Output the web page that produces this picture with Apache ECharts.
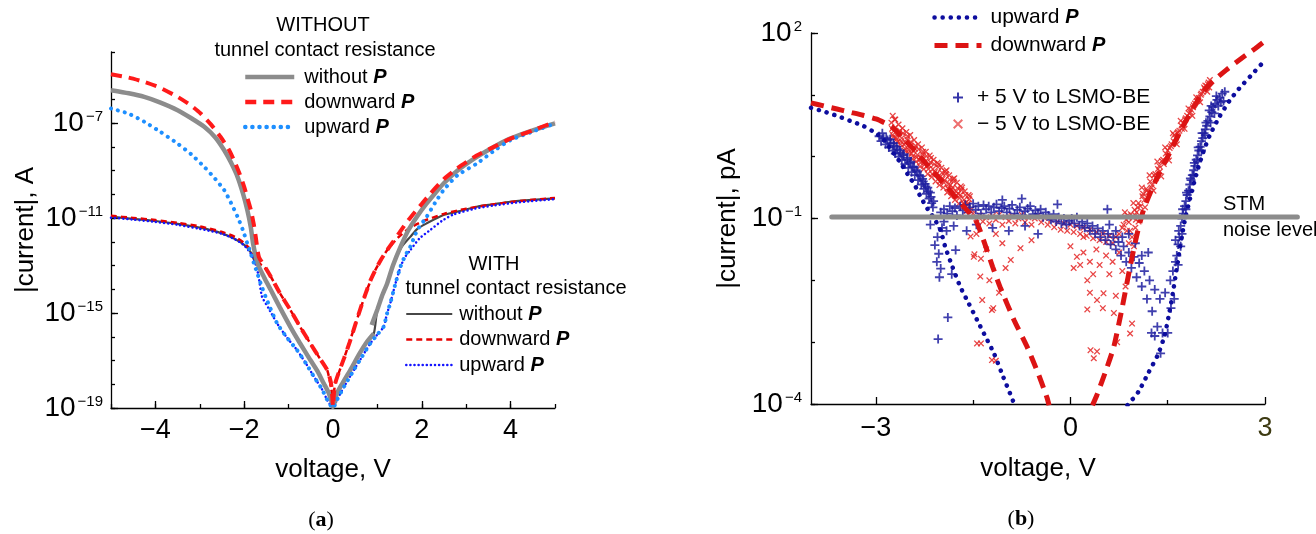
<!DOCTYPE html>
<html><head><meta charset="utf-8">
<script src="https://cdn.jsdelivr.net/npm/echarts@6/dist/echarts.min.js"></script>
<style>html,body{margin:0;padding:0;background:#fff}#c{width:1316px;height:534px}</style>
</head><body><div id="c"></div>
<script>
// ================= DATA =================
// Panel (a): [voltage (V), log10(|current| / A)]
const aXTicks = [-4, -2, 0, 2, 4];
// WITHOUT tunnel contact resistance
const aNoResNone = [[-5,-5.61],[-4.6,-5.74],[-4.25,-5.89],[-3.9,-6.12],[-3.5,-6.45],[-3.2,-6.78],[-2.9,-7.15],[-2.65,-7.6],[-2.45,-8.14],[-2.3,-8.65],[-2.15,-9.26],[-2.03,-9.95],[-1.93,-10.66],[-1.85,-11.4],[-1.8,-12.07],[-1.7,-12.91],[-1.55,-13.5],[-1.4,-14.03],[-1.2,-14.75],[-0.96,-15.58],[-0.75,-16.25],[-0.51,-16.98],[-0.35,-17.45],[-0.21,-17.96],[-0.1,-18.35],[-0.02,-18.8],[0,-18.95],[0.09,-18.38],[0.2,-18.0],[0.39,-17.4],[0.6,-16.7],[0.75,-16.25],[0.92,-15.86],[0.9,'-'],[0.87,-15.5],[1.0,-14.85],[1.1,-14.3],[1.22,-13.75],[1.35,-13.0],[1.52,-12.21],[1.7,-11.5],[1.89,-10.94],[2.1,-10.4],[2.3,-9.95],[2.49,-9.54],[2.8,-9.0],[3.24,-8.42],[3.6,-8.02],[3.99,-7.65],[4.5,-7.3],[5.0,-7.01]];
const aNoResDown = [[-5,-4.94],[-4.6,-5.08],[-4.25,-5.26],[-3.9,-5.5],[-3.5,-5.89],[-3.2,-6.25],[-2.98,-6.59],[-2.75,-7.05],[-2.53,-7.58],[-2.35,-8.1],[-2.23,-8.56],[-2.1,-9.15],[-2.0,-9.68],[-1.92,-10.2],[-1.85,-10.66],[-1.78,-11.3],[-1.74,-11.79],[-1.67,-12.63],[-1.55,-13.0],[-1.4,-13.47],[-1.2,-14.15],[-0.96,-14.87],[-0.75,-15.55],[-0.51,-16.28],[-0.3,-16.9],[-0.13,-17.4],[-0.05,-17.9],[-0.02,-18.4],[0,-18.94],[0.02,-18.4],[0.05,-17.96],[0.15,-17.4],[0.25,-16.9],[0.38,-16.2],[0.5,-15.5],[0.62,-14.8],[0.75,-14.1],[0.85,-13.6],[0.95,-13.2],[1.08,-12.75],[1.2,-12.4],[1.35,-12.0],[1.5,-11.6],[1.65,-11.2],[1.8,-10.85],[2.0,-10.4],[2.2,-9.95],[2.5,-9.35],[2.8,-8.9],[3.2,-8.4],[3.6,-8.02],[4.0,-7.65],[4.5,-7.3],[5.0,-6.94]];
const aNoResUp = [[-5,-6.38],[-4.6,-6.6],[-4.25,-6.94],[-3.9,-7.35],[-3.5,-7.86],[-3.2,-8.3],[-2.9,-8.84],[-2.65,-9.35],[-2.45,-9.82],[-2.3,-10.35],[-2.15,-10.94],[-2.03,-11.5],[-1.93,-12.07],[-1.85,-12.5],[-1.78,-12.91],[-1.7,-13.35],[-1.63,-13.75],[-1.5,-14.4],[-1.26,-15.43],[-1.05,-16.0],[-0.81,-16.56],[-0.6,-17.15],[-0.43,-17.68],[-0.25,-18.2],[-0.13,-18.66],[0,-19.0],[0.09,-18.66],[0.25,-18.1],[0.47,-17.4],[0.65,-16.85],[0.84,-16.28],[1.0,-15.9],[1.14,-15.58],[1.22,-15.0],[1.29,-14.59],[1.4,-13.8],[1.52,-13.05],[1.62,-12.6],[1.74,-12.21],[1.9,-11.5],[2.11,-10.94],[2.3,-10.35],[2.49,-9.82],[2.8,-9.2],[3.24,-8.7],[3.6,-8.2],[3.99,-7.72],[4.5,-7.35],[5.0,-7.01]];
// WITH tunnel contact resistance
const aResNone = [[-5,-10.94],[-4.5,-11.03],[-4,-11.12],[-3.5,-11.24],[-3,-11.4],[-2.6,-11.58],[-2.3,-11.8],[-2.1,-12.0],[-1.95,-12.2],[-1.85,-12.45],[-1.78,-12.75],[-1.7,-12.95],[-1.55,-13.5],[-1.4,-14.03],[-1.2,-14.75],[-0.96,-15.58],[-0.75,-16.25],[-0.51,-16.98],[-0.21,-17.96],[-0.02,-18.8],[0,-18.95],[0.09,-18.38],[0.39,-17.4],[0.75,-16.25],[0.92,-15.86],[1.0,-14.85],[1.22,-13.75],[1.4,-12.75],[1.55,-12.2],[1.74,-11.79],[1.9,-11.45],[2.11,-11.22],[2.49,-10.87],[2.9,-10.68],[3.24,-10.52],[3.6,-10.42],[3.99,-10.31],[4.5,-10.23],[5.0,-10.17]];
const aResDown = [[-5,-10.9],[-4.5,-10.99],[-4,-11.08],[-3.5,-11.2],[-3,-11.35],[-2.5,-11.58],[-2.2,-11.8],[-2.0,-12.05],[-1.85,-12.35],[-1.75,-12.7],[-1.67,-12.9],[-1.55,-13.05],[-1.4,-13.47],[-1.2,-14.15],[-0.96,-14.87],[-0.75,-15.55],[-0.51,-16.28],[-0.3,-16.9],[-0.13,-17.4],[-0.02,-18.4],[0,-18.94],[0.02,-18.4],[0.05,-17.96],[0.25,-16.9],[0.5,-15.5],[0.75,-14.1],[0.95,-13.2],[1.2,-12.4],[1.45,-11.85],[1.7,-11.45],[2.0,-11.15],[2.5,-10.82],[3.0,-10.6],[3.6,-10.42],[4.2,-10.28],[5,-10.15]];
const aResUp = [[-5,-10.98],[-4.5,-11.06],[-4,-11.16],[-3.5,-11.28],[-3,-11.45],[-2.5,-11.66],[-2.2,-11.9],[-2.0,-12.15],[-1.85,-12.5],[-1.75,-12.9],[-1.68,-13.4],[-1.6,-14.3],[-1.45,-14.8],[-1.26,-15.43],[-1.05,-16.0],[-0.81,-16.56],[-0.6,-17.15],[-0.43,-17.68],[-0.25,-18.2],[-0.13,-18.66],[0,-19.0],[0.09,-18.66],[0.25,-18.1],[0.47,-17.4],[0.65,-16.85],[0.84,-16.28],[1.0,-15.9],[1.14,-15.58],[1.22,-15.0],[1.29,-14.59],[1.4,-13.8],[1.52,-13.05],[1.62,-12.65],[1.74,-12.35],[1.95,-11.85],[2.19,-11.5],[2.45,-11.12],[2.71,-10.85],[3.2,-10.6],[3.61,-10.47],[4.2,-10.33],[5,-10.2]];

// Panel (b): [voltage (V), log10(|current| / pA)]
const bXTicks = [-3, 0, 3];
const bXMinorTicks = [-1.5, 1.5];
const bUpModel = [[-4.0,0.79],[-3.8,0.73],[-3.6,0.66],[-3.4,0.58],[-3.2,0.5],[-3.0,0.38],[-2.9,0.3],[-2.8,0.16],[-2.7,0.02],[-2.62,-0.1],[-2.5,-0.3],[-2.4,-0.46],[-2.31,-0.65],[-2.2,-0.85],[-2.1,-1.0],[-2.0,-1.2],[-1.93,-1.46],[-1.82,-1.78],[-1.7,-2.1],[-1.57,-2.37],[-1.44,-2.64],[-1.3,-2.93],[-1.18,-3.18],[-1.04,-3.55],[-0.9,-3.91],[-0.86,-4.02],[0,'-'],[0.88,-4.02],[1.05,-3.8],[1.2,-3.5],[1.35,-3.2],[1.45,-2.9],[1.52,-2.55],[1.58,-2.2],[1.64,-1.8],[1.7,-1.4],[1.76,-1.05],[1.85,-0.65],[1.95,-0.25],[2.05,0.08],[2.15,0.35],[2.3,0.65],[2.45,0.9],[2.6,1.1],[2.8,1.33],[3.0,1.56]];
const bDownModel = [[-4.0,0.87],[-3.8,0.82],[-3.6,0.77],[-3.4,0.72],[-3.2,0.67],[-3.0,0.61],[-2.85,0.54],[-2.74,0.47],[-2.6,0.32],[-2.4,0.1],[-2.2,-0.14],[-2.0,-0.38],[-1.8,-0.62],[-1.6,-0.86],[-1.45,-1.05],[-1.34,-1.35],[-1.2,-1.78],[-1.08,-2.12],[-0.87,-2.64],[-0.67,-3.07],[-0.5,-3.5],[-0.36,-3.9],[-0.33,-4.02],[0,'-'],[0.34,-4.02],[0.41,-3.85],[0.55,-3.45],[0.67,-3.07],[0.8,-2.43],[0.92,-1.78],[1.03,-1.24],[1.13,-0.85],[1.3,-0.42],[1.5,0.0],[1.7,0.42],[1.9,0.8],[2.05,1.05],[2.2,1.22],[2.4,1.4],[2.65,1.6],[2.85,1.75],[3.0,1.87]];
const bNoise = [[-3.68,-0.975],[3.5,-0.975]];
// measured points, +5 V to LSMO-BE
const bPlus = [
[-2.95,0.33],[-2.92,0.25],[-2.88,0.3],[-2.85,0.2],[-2.82,0.27],[-2.8,0.15],[-2.77,0.22],[-2.74,0.1],[-2.72,0.18],[-2.7,0.05],[-2.67,0.12],[-2.65,0.0],[-2.62,0.06],[-2.6,-0.05],[-2.58,0.02],[-2.55,-0.12],[-2.52,-0.05],[-2.5,-0.18],[-2.48,-0.1],[-2.45,-0.25],[-2.43,-0.17],[-2.4,-0.3],[-2.38,-0.22],[-2.35,-0.38],[-2.33,-0.3],[-2.3,-0.45],[-2.28,-0.36],[-2.26,-0.52],[-2.24,-0.44],[-2.22,-0.6],[-2.2,-0.5],[-2.18,-0.68],[-2.16,-0.58],[-2.14,-0.75],[-2.12,-0.82],
[-2.9,0.38],[-2.84,0.3],[-2.78,0.28],[-2.73,0.22],[-2.68,0.16],[-2.63,0.1],[-2.57,0.04],[-2.51,-0.02],[-2.46,-0.08],[-2.41,-0.16],[-2.36,-0.24],[-2.31,-0.32],[-2.27,-0.4],[-2.23,-0.48],[-2.19,-0.56],[-2.15,-0.65],[-2.11,-0.72],
[-2.16,-1.1],[-2.09,-1.43],[-2.03,-1.57],[-2.0,-1.81],[-1.83,-1.9],[-1.77,-1.51],[-1.91,-1.2],[-2.05,-1.3],[-1.98,-1.15],[-1.95,-1.05],[-2.06,-1.7],[-2.02,-1.95],[-1.89,-2.6],[-2.04,-2.95],
[-2.0,-0.9],[-1.95,-0.85],[-1.9,-0.92],[-1.86,-0.8],[-1.82,-0.88],[-1.78,-0.83],[-1.75,-0.95],[-1.7,-0.8],[-1.66,-0.87],[-1.62,-0.78],[-1.58,-0.9],[-1.55,-0.82],[-1.5,-0.76],[-1.46,-0.86],[-1.42,-0.8],[-1.38,-0.92],[-1.34,-0.78],[-1.3,-0.85],[-1.26,-0.8],[-1.22,-0.9],[-1.18,-0.82],[-1.14,-0.77],[-1.1,-0.88],[-1.06,-0.83],[-1.02,-0.8],[-0.98,-0.9],[-0.94,-0.84],[-0.9,-0.78],[-0.86,-0.92],[-0.82,-0.86],[-0.78,-0.82],[-0.74,-0.95],[-0.7,-0.88],[-0.66,-0.84],[-0.62,-0.8],[-0.58,-0.93],[-0.54,-0.87],[-0.5,-0.92],[-0.46,-0.85],[-0.42,-0.98],[-0.38,-0.9],[-0.34,-0.95],[-0.3,-1.02],[-0.26,-0.93],[-0.22,-1.05],[-0.18,-0.98],[-0.14,-1.08],[-0.1,-1.0],[-0.06,-1.1],[-0.02,-1.04],
[-1.8,-1.12],[-1.6,-1.2],[-1.45,-1.1],[-1.2,-1.15],[-0.95,-1.2],[-0.7,-1.12],[-0.5,-1.25],[-1.05,-0.7],[-0.75,-0.68],[-0.2,-0.77],[0.57,-0.85],
[0.02,-1.0],[0.06,-1.08],[0.1,-0.98],[0.14,-1.12],[0.18,-1.05],[0.22,-1.15],[0.26,-1.08],[0.3,-1.2],[0.34,-1.12],[0.38,-1.25],[0.42,-1.16],[0.46,-1.3],[0.5,-1.2],[0.54,-1.35],[0.58,-1.25],[0.62,-1.42],[0.66,-1.3],[0.7,-1.5],[0.74,-1.38],[0.78,-1.6],[0.82,-1.45],[0.86,-1.7],[0.9,-1.55],[0.94,-1.8],[0.98,-1.62],[1.02,-1.95],[1.06,-1.72],[1.1,-2.1],[1.14,-1.85],[1.18,-2.3],[1.22,-2.0],[1.26,-2.5],[1.3,-2.15],[1.34,-2.75],[1.38,-2.3],[1.42,-2.85],[1.46,-2.2],[1.5,-2.85],[1.54,-2.0],[1.58,-1.85],[1.62,-1.7],[1.55,-2.45],[1.6,-2.3],[1.39,-3.18],[1.25,-2.85],[1.3,-2.9],[1.1,-1.6],[0.8,-1.3],[0.9,-1.25],[1.0,-1.4],[1.2,-1.55],[0.7,-1.2],[0.6,-1.1],
[1.64,-1.6],[1.66,-1.42],[1.68,-1.3],[1.7,-1.12],[1.72,-1.0],[1.74,-0.92],[1.76,-0.8],[1.78,-0.72],[1.8,-0.62],[1.82,-0.55],[1.84,-0.45],[1.86,-0.38],[1.88,-0.3],[1.9,-0.22],[1.92,-0.15],[1.94,-0.05],[1.96,0.02],[1.98,0.1],[2.0,0.16],[2.02,0.25],[2.04,0.3],[2.06,0.38],[2.08,0.44],[2.1,0.5],[2.12,0.58],[2.15,0.65],[2.18,0.72],[2.2,0.8],[2.23,0.85],[2.26,0.92],[2.3,0.95],[2.34,1.02],[2.38,1.05],[2.36,0.9],[2.28,0.82],[2.22,0.7],[2.14,0.75],[1.72,-1.25],[1.78,-0.85],[1.84,-0.55],[1.9,-0.3],[1.96,-0.08],[2.02,0.1],[2.08,0.35],[2.16,0.55],
[1.67,-1.2],[1.73,-0.85],[1.79,-0.58],[1.85,-0.35],[1.91,-0.1],[1.97,0.15],[2.03,0.38],[2.09,0.55],[2.17,0.82],[2.25,0.98],[2.32,0.88],[1.7,-1.45],[1.62,-1.35],[1.66,-1.75]
];
// measured points, -5 V to LSMO-BE
const bCross = [
[-2.74,0.66],[-2.71,0.6],[-2.76,0.55],[-2.73,0.32],[-2.7,0.47],[-2.67,0.24],[-2.64,0.38],[-2.61,0.25],[-2.58,0.38],[-2.55,0.13],[-2.52,0.28],[-2.49,0.11],[-2.46,0.24],[-2.43,0.01],[-2.4,0.13],[-2.37,-0.01],[-2.34,0.12],[-2.31,-0.1],[-2.28,0.04],[-2.25,-0.13],[-2.22,0.01],[-2.19,-0.2],[-2.16,-0.09],[-2.13,-0.28],[-2.1,-0.12],[-2.07,-0.29],[-2.04,-0.17],[-2.01,-0.4],[-1.98,-0.26],[-1.95,-0.42],[-1.92,-0.28],[-1.89,-0.51],[-1.86,-0.37],[-1.83,-0.53],[-1.8,-0.4],[-1.77,-0.63],[-1.74,-0.51],[-1.71,-0.67],[-1.68,-0.54],[-1.65,-0.75],[-1.62,-0.62],[-1.59,-0.78],[-1.56,-0.69],[-1.53,-0.85],
[-2.75,0.45],[-2.69,0.3],[-2.63,0.42],[-2.57,0.2],[-2.51,0.33],[-2.45,0.05],[-2.39,0.18],[-2.33,-0.05],[-2.27,0.08],[-2.21,-0.15],[-2.15,-0.02],[-2.09,-0.25],[-2.03,-0.12],[-1.97,-0.36],[-1.91,-0.22],[-1.85,-0.46],[-1.79,-0.35],[-1.73,-0.6],[-1.67,-0.5],[-1.61,-0.74],[-1.55,-0.64],
[-2.72,0.42],[-2.66,0.36],[-2.6,0.3],[-2.54,0.22],[-2.48,0.16],[-2.42,0.1],[-2.36,0.03],[-2.3,-0.02],[-2.24,-0.08],[-2.18,-0.14],[-2.12,-0.2],[-2.06,-0.27],[-2.0,-0.32],[-1.94,-0.38],[-1.88,-0.45],[-1.82,-0.5],[-1.76,-0.56],[-1.7,-0.62],[-1.64,-0.7],[-1.58,-0.76],
[-2.74,0.35],[-2.68,0.28],[-2.62,0.2],[-2.56,0.1],[-2.5,0.06],[-2.44,-0.04],[-2.38,-0.08],[-2.32,-0.16],[-2.26,-0.2],[-2.2,-0.28],[-2.14,-0.33],[-2.08,-0.4],[-2.02,-0.46],[-1.96,-0.5],[-1.9,-0.58],[-1.84,-0.64],[-1.78,-0.7],[-1.72,-0.76],[-1.66,-0.82],[-1.6,-0.88],
[-2.7,0.6],[-2.65,0.52],[-2.59,0.46],[-2.53,0.4],[-2.47,0.35],[-2.41,0.27],[-2.35,0.2],[-2.29,0.15],[-2.23,0.08],[-2.17,0.02],[-2.11,-0.05],[-2.05,-0.1],[-1.99,-0.18],[-1.93,-0.24],[-1.87,-0.3],[-1.81,-0.36],[-1.75,-0.42],[-1.69,-0.48],[-1.63,-0.56],[-1.57,-0.62],
[-1.5,-0.92],[-1.45,-1.0],[-1.4,-0.95],[-1.35,-1.05],[-1.3,-0.98],[-1.25,-1.08],[-1.2,-0.96],[-1.15,-1.02],[-1.1,-0.94],[-1.05,-1.1],[-1.0,-0.98],[-0.95,-1.04],[-0.9,-0.96],[-0.85,-1.08],[-0.8,-1.0],[-0.75,-0.94],[-0.7,-1.06],[-0.65,-0.98],[-0.6,-1.1],[-0.55,-1.0],[-0.5,-0.95],[-0.45,-1.06],[-0.4,-0.99],[-0.35,-1.1],[-0.3,-1.02],[-0.25,-1.14],[-0.2,-1.05],[-0.15,-1.18],[-0.1,-1.08],[-0.05,-1.2],[0.0,-1.1],[0.05,-1.22],[0.1,-1.12],[0.15,-1.25],[0.2,-1.15],[0.25,-1.28],[0.3,-1.18],[0.35,-1.32],[0.4,-1.22],[0.45,-1.35],[0.5,-1.25],[0.55,-1.38],[0.6,-1.28],[0.65,-1.4],[0.7,-1.3],[0.75,-1.25],[0.8,-1.15],
[-1.54,-1.29],[-1.49,-1.62],[-1.39,-1.94],[-1.36,-2.32],[-1.21,-2.48],[-1.05,-1.4],[-0.92,-1.67],[-0.77,-1.48],[-1.44,-3.02],[-1.21,-3.29],[-1.3,-1.5],[-1.0,-1.8],[-1.15,-1.25],[-0.6,-1.35],[-1.45,-1.25],[-1.25,-2.0],[-1.1,-2.2],[-1.38,-1.65],[-1.48,-1.58],[-1.19,-2.45],[-1.38,-3.02],[-1.15,-3.3],
[0.1,-1.62],[0.26,-2.0],[0.41,-2.32],[0.51,-2.21],[0.26,-2.47],[0.67,-2.53],[0.41,-3.15],[0.36,-3.26],[0.31,-3.13],[0.92,-2.86],[0.95,-2.7],[0.72,-3.0],[0.0,-1.45],[0.05,-1.8],[0.15,-1.75],[0.2,-1.55],[0.3,-1.7],[0.35,-1.9],[0.45,-1.75],[0.55,-1.6],[0.6,-1.9],[0.65,-1.7],[0.75,-1.55],[0.8,-1.85],[0.85,-2.1],[0.5,-2.45],[0.3,-2.2],[0.7,-2.25],[0.4,-1.5],[0.2,-1.3],[0.9,-1.4],
[0.82,-1.1],[0.86,-1.02],[0.9,-1.06],[0.93,-0.93],[0.96,-0.98],[0.99,-0.86],[1.02,-0.9],[1.05,-0.75],[1.08,-0.8],[1.11,-0.64],[1.14,-0.7],[1.17,-0.52],[1.2,-0.58],[1.23,-0.4],[1.26,-0.46],[1.29,-0.3],[1.32,-0.35],[1.35,-0.2],[1.38,-0.24],[1.41,-0.07],[1.44,-0.12],[1.47,0.05],[1.5,0.1],[1.53,0.14],[1.56,0.2],[1.59,0.25],[1.62,0.3],[1.65,0.38],[1.68,0.42],[1.71,0.5],[1.74,0.55],[1.77,0.6],[1.8,0.66],[1.83,0.7],[1.86,0.76],[1.89,0.8],[1.92,0.86],[1.95,0.9],[1.98,0.95],[2.01,1.0],[2.04,1.05],[2.07,1.1],[2.1,1.14],[2.13,1.2],[2.15,1.24],
[0.88,-0.95],[1.0,-0.95],[1.12,-0.6],[1.25,-0.5],[1.37,-0.15],[1.5,0.0],[1.6,0.35],[1.72,0.45],[1.85,0.72],[1.97,0.92],[2.08,1.15],[2.14,1.12],
[0.9,-0.98],[1.04,-0.82],[1.18,-0.55],[1.31,-0.28],[1.43,-0.05],[1.55,0.17],[1.66,0.4],[1.78,0.62],[1.9,0.83],[2.02,1.02],[2.12,1.17],
[0.84,-0.9],[0.97,-0.75],[1.1,-0.5],[1.22,-0.3],[1.34,-0.08],[1.46,0.15],[1.58,0.38],[1.7,0.58],[1.82,0.78],[1.94,0.96],[2.06,1.12],
[0.87,-1.2],[1.01,-1.02],[1.15,-0.82],[1.28,-0.55],[1.4,-0.32],[1.52,-0.06],[1.64,0.2],[1.76,0.45],[1.88,0.66],[2.0,0.88],[2.11,1.05],
[0.95,-1.3],[1.0,-1.15],[0.98,-1.45],[1.05,-1.05],[0.92,-1.2]
];

// ================= CHART =================
const FONT = '"Liberation Sans", Arial, sans-serif';
const SERIF = '"Liberation Serif", "Times New Roman", serif';
const MINUS = '\u2212';
const toCur = arr => arr.map(p => p[1] === '-' ? [p[0], '-'] : [p[0], Math.pow(10, p[1])]);
const PLUS_PATH = 'path://M4,0h2v4h4v2h-4v4h-2v-4h-4v-2h4z';
const X_PATH = 'path://M1.4,0L5,3.6L8.6,0L10,1.4L6.4,5L10,8.6L8.6,10L5,6.4L1.4,10L0,8.6L3.6,5L0,1.4Z';

const legendNames = {
  aNone: 'without {b|P}', aDown: 'downward {b|P}', aUp: 'upward {b|P}',
  rNone: 'without {b|P}', rDown: 'downward {b|P}', rUp: 'upward {b|P}',
  bUp: 'upward {b|P}', bDown: 'downward {b|P}',
  bPlus: '+ 5 V to LSMO-BE', bCross: MINUS + ' 5 V to LSMO-BE'
};

function supLabel(v) {
  const e = Math.round(v);
  return '10{s|' + (e < 0 ? MINUS + (-e) : String(e)) + '}';
}
const supRich = {
  s: { fontSize: 15, lineHeight: 15, verticalAlign: 'top', padding: [1, 0, 0, 2], fontFamily: FONT, color: '#000' }
};

function line(name, data, xi, yi, color, width, type, cap, z) {
  return {
    type: 'line', name, xAxisIndex: xi, yAxisIndex: yi, data: toCur(data),
    showSymbol: false, symbol: 'circle', smooth: 0.2, connectNulls: false,
    lineStyle: { color, width, type, cap: cap || 'butt' },
    itemStyle: { color }, silent: true, z: z || 2, animation: false
  };
}

const axisLineStyle = { color: '#000', width: 1.3 };
const noLine = { show: false, onZero: false };
const textBase = { fontFamily: FONT, color: '#000' };
const hiddenAxis = { axisLine: noLine, axisTick: { show: false }, axisLabel: { show: false }, splitLine: { show: false } };

const legendText = {
  fontFamily: FONT, fontSize: 20, lineHeight: 20, color: '#000', padding: [0, 0, 0, 5],
  rich: { b: { fontFamily: FONT, fontSize: 20, lineHeight: 20, fontWeight: 'bold', fontStyle: 'italic', color: '#000' } }
};

const option = {
  backgroundColor: '#fff',
  animation: false,
  grid: [
    { left: 111, top: 52, width: 444, height: 356, containLabel: false, outerBoundsMode: 'none' },
    { left: 811, top: 33, width: 454, height: 371, containLabel: false, outerBoundsMode: 'none' },
    // same scale as panel (b), widened so the noise-level line can run past the axis end
    { left: 811, top: 33, width: 486.4, height: 371, containLabel: false, outerBoundsMode: 'none' }
  ],
  xAxis: [
    { gridIndex: 0, type: 'value', min: -5, max: 5, position: 'bottom',
      axisLine: { show: true, onZero: false, lineStyle: axisLineStyle },
      axisTick: { show: true, inside: true, length: 7, customValues: aXTicks, lineStyle: axisLineStyle },
      axisLabel: { show: true, customValues: aXTicks, margin: 9, fontSize: 27, ...textBase,
        formatter: v => String(v).replace('-', MINUS) },
      splitLine: { show: false },
      name: 'voltage, V', nameLocation: 'middle', nameGap: 49,
      nameTextStyle: { fontSize: 26, lineHeight: 26, ...textBase } },
    { gridIndex: 0, type: 'value', min: -5, max: 5, interval: 1, position: 'bottom',
      axisLine: noLine, axisTick: { show: true, inside: true, length: 4, lineStyle: axisLineStyle },
      axisLabel: { show: false }, splitLine: { show: false } },
    { gridIndex: 1, type: 'value', min: -4, max: 3, position: 'bottom',
      axisLine: { show: true, onZero: false, lineStyle: axisLineStyle },
      axisTick: { show: true, inside: true, length: 7, customValues: bXTicks, lineStyle: axisLineStyle },
      axisLabel: { show: true, customValues: bXTicks, margin: 11, fontSize: 27, ...textBase,
        color: v => (String(v) === '3' ? '#3d3a12' : '#000'),
        formatter: v => String(v).replace('-', MINUS) },
      splitLine: { show: false },
      name: 'voltage, V', nameLocation: 'middle', nameGap: 52,
      nameTextStyle: { fontSize: 26, lineHeight: 26, ...textBase } },
    { gridIndex: 1, type: 'value', min: -4, max: 3, position: 'bottom',
      axisLine: noLine, axisTick: { show: true, inside: true, length: 4, customValues: bXMinorTicks, lineStyle: axisLineStyle },
      axisLabel: { show: false }, splitLine: { show: false } },
    Object.assign({ gridIndex: 2, type: 'value', min: -4, max: 3.5, position: 'bottom' }, hiddenAxis)
  ],
  yAxis: [
    { gridIndex: 0, type: 'log', logBase: 10, min: 1e-19, max: 1e-4, position: 'left',
      axisLine: { show: true, onZero: false, lineStyle: axisLineStyle },
      axisTick: { show: false }, axisLabel: { show: false }, splitLine: { show: false }, minorTick: { show: false },
      name: '|current|, A', nameLocation: 'middle', nameGap: 72,
      nameTextStyle: { fontSize: 26, lineHeight: 26, ...textBase } },
    { gridIndex: 0, type: 'value', min: -19, max: -4, interval: 4, position: 'left',
      axisLine: noLine,
      axisTick: { show: true, inside: true, length: 7, lineStyle: axisLineStyle },
      axisLabel: { show: true, showMaxLabel: false, margin: 8, fontSize: 28, lineHeight: 30, ...textBase,
        formatter: supLabel, rich: supRich },
      splitLine: { show: false } },
    { gridIndex: 0, type: 'value', min: -19, max: -4, interval: 1, position: 'left',
      axisLine: noLine, axisTick: { show: true, inside: true, length: 4, lineStyle: axisLineStyle },
      axisLabel: { show: false }, splitLine: { show: false } },
    { gridIndex: 1, type: 'log', logBase: 10, min: 1e-4, max: 1e2, position: 'left',
      axisLine: { show: true, onZero: false, lineStyle: axisLineStyle },
      axisTick: { show: false }, axisLabel: { show: false }, splitLine: { show: false }, minorTick: { show: false },
      name: '|current|, pA', nameLocation: 'middle', nameGap: 70,
      nameTextStyle: { fontSize: 26, lineHeight: 26, ...textBase } },
    { gridIndex: 1, type: 'value', min: -4, max: 2, interval: 3, position: 'left',
      axisLine: noLine,
      axisTick: { show: true, inside: true, length: 7, lineStyle: axisLineStyle },
      axisLabel: { show: true, margin: 9, fontSize: 28, lineHeight: 30, ...textBase,
        formatter: supLabel, rich: supRich },
      splitLine: { show: false } },
    { gridIndex: 1, type: 'value', min: -4, max: 2, interval: 1, position: 'left',
      axisLine: noLine, axisTick: { show: true, inside: true, length: 4, lineStyle: axisLineStyle },
      axisLabel: { show: false }, splitLine: { show: false } },
    Object.assign({ gridIndex: 2, type: 'log', logBase: 10, min: 1e-4, max: 1e2, position: 'left' }, hiddenAxis)
  ],
  legend: [
    { data: [
        { name: 'aNone', lineStyle: { width: 4.5 } },
        { name: 'aDown', lineStyle: { width: 4.5 } },
        { name: 'aUp', lineStyle: { width: 4.5 } }
      ],
      left: 243, top: 67, orient: 'vertical', padding: 0,
      itemWidth: 49, itemHeight: 14, itemGap: 5, selectedMode: false,
      itemStyle: { opacity: 0 }, formatter: n => legendNames[n], textStyle: legendText },
    { data: [
        { name: 'rNone', lineStyle: { width: 2.2 } },
        { name: 'rDown', lineStyle: { width: 2.5 } },
        { name: 'rUp', lineStyle: { width: 2.5 } }
      ],
      left: 405, top: 304, orient: 'vertical', padding: 0,
      itemWidth: 46, itemHeight: 14, itemGap: 5.5, selectedMode: false,
      itemStyle: { opacity: 0 }, formatter: n => legendNames[n],
      textStyle: Object.assign({}, legendText, { padding: [0, 0, 0, 2] }) },
    { data: [
        { name: 'bUp', lineStyle: { width: 4.5 } },
        { name: 'bDown', lineStyle: { width: 5 } }
      ],
      left: 932, top: 7, orient: 'vertical', padding: 0,
      itemWidth: 47, itemHeight: 14, itemGap: 7, selectedMode: false,
      itemStyle: { opacity: 0 }, formatter: n => legendNames[n],
      textStyle: Object.assign({}, legendText, { fontSize: 21, lineHeight: 20, padding: [0, 0, 0, 4] }) },
    { data: [
        { name: 'bPlus', icon: PLUS_PATH, itemStyle: { color: '#1f1fa0', opacity: 0.9 } },
        { name: 'bCross', icon: X_PATH, itemStyle: { color: '#e84a4a', opacity: 0.8 } }
      ],
      left: 953, top: 87, orient: 'vertical', padding: 0,
      itemWidth: 10, itemHeight: 10, itemGap: 5.5, selectedMode: false,
      formatter: n => legendNames[n],
      textStyle: { fontFamily: FONT, fontSize: 21, lineHeight: 20, color: '#000', padding: [0, 0, 0, 9] } }
  ],
  series: [
    // panel (a), WITH contact resistance (thin, drawn first)
    line('rNone', aResNone, 0, 0, '#474747', 2.2, 'solid', 'butt', 2),
    line('rDown', aResDown, 0, 0, '#e60000', 2.5, [6, 4], 'butt', 2),
    line('rUp', aResUp, 0, 0, '#1414ff', 2.5, [0.1, 4], 'round', 2),
    // panel (a), WITHOUT contact resistance (thick)
    line('aNone', aNoResNone, 0, 0, '#8c8c8c', 4.5, 'solid', 'butt', 3),
    line('aUp', aNoResUp, 0, 0, '#1e8fff', 4, [0.1, 7], 'round', 3),
    line('aDown', aNoResDown, 0, 0, '#ff1a1a', 4, [11, 7], 'butt', 3),
    // panel (b) measured scatter
    { type: 'scatter', name: 'bCross', xAxisIndex: 2, yAxisIndex: 3, data: toCur(bCross),
      symbol: X_PATH, symbolSize: 6.5, itemStyle: { color: '#e42626', opacity: 0.85 }, silent: true, z: 2 },
    { type: 'scatter', name: 'bPlus', xAxisIndex: 2, yAxisIndex: 3, data: toCur(bPlus),
      symbol: PLUS_PATH, symbolSize: 9, itemStyle: { color: '#1f1fa0', opacity: 0.85 }, silent: true, z: 2 },
    // panel (b) model lines
    line('bDown', bDownModel, 2, 3, '#dc1414', 5, [13, 8], 'butt', 3),
    line('bUp', bUpModel, 2, 3, '#0d0d9e', 4.5, [0.1, 8], 'round', 3),
    Object.assign(line('noise', bNoise, 4, 6, '#8c8c8c', 5, 'solid', 'round', 4), { smooth: false })
  ],
  graphic: [
    { type: 'text', x: 323, y: 25, style: { text: 'WITHOUT', fontFamily: FONT, fontSize: 20, fill: '#000', align: 'center', verticalAlign: 'middle' } },
    { type: 'text', x: 325, y: 50, style: { text: 'tunnel contact resistance', fontFamily: FONT, fontSize: 20, fill: '#000', align: 'center', verticalAlign: 'middle' } },
    { type: 'text', x: 494, y: 264, style: { text: 'WITH', fontFamily: FONT, fontSize: 20, fill: '#000', align: 'center', verticalAlign: 'middle' } },
    { type: 'text', x: 516, y: 288, style: { text: 'tunnel contact resistance', fontFamily: FONT, fontSize: 20, fill: '#000', align: 'center', verticalAlign: 'middle' } },
    { type: 'text', x: 1223, y: 204, style: { text: 'STM', fontFamily: FONT, fontSize: 20, fill: '#000', align: 'left', verticalAlign: 'middle' } },
    { type: 'text', x: 1223, y: 230, style: { text: 'noise level', fontFamily: FONT, fontSize: 20, fill: '#000', align: 'left', verticalAlign: 'middle' } },
    { type: 'text', x: 321, y: 520, style: { text: '({b|a})', fontFamily: SERIF, fontSize: 22, fill: '#000', align: 'center', verticalAlign: 'middle',
        rich: { b: { fontFamily: SERIF, fontSize: 22, fontWeight: 'bold', fill: '#000' } } } },
    { type: 'text', x: 1021, y: 519, style: { text: '({b|b})', fontFamily: SERIF, fontSize: 22, fill: '#000', align: 'center', verticalAlign: 'middle',
        rich: { b: { fontFamily: SERIF, fontSize: 22, fontWeight: 'bold', fill: '#000' } } } }
  ]
};

const chart = echarts.init(document.getElementById('c'), null, { renderer: 'canvas', width: 1316, height: 534 });
chart.setOption(option);
</script>
</body></html>
